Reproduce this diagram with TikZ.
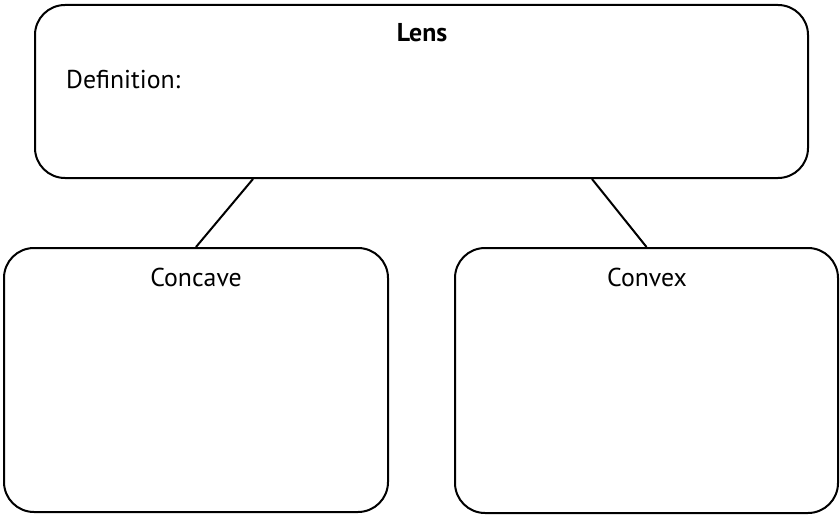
\documentclass[tikz,border=0pt]{standalone}
\usepackage{fontspec}
\setmainfont{PT Sans}
\begin{document}
\begin{tikzpicture}[x=1pt,y=-1pt,
  box/.style={draw=black,line width=2pt,rounded corners=30pt,inner sep=0pt},
  link/.style={draw=black,line width=2pt},
  lbl/.style={font=\fontsize{25.8}{30}\selectfont,anchor=base,inner sep=0pt}]
\useasboundingbox[fill=white] (0,0) rectangle (840,516);
\node[box,minimum width=773pt,minimum height=173pt] (top) at (421.5,91.5) {};
\node[box,minimum width=384pt,minimum height=264pt] (left) at (196,380) {};
\node[box,minimum width=383pt,minimum height=265pt] (right) at (646.5,380.5) {};
\node[lbl,font=\fontsize{25.8}{30}\selectfont\bfseries] (lens) at (422,42) {Lens};
\node[lbl,anchor=base west] (def) at (66,89) {Definition:};
\node[lbl] (concave) at (196,286) {Concave};
\node[lbl] (convex) at (647,286) {Convex};
\draw[link] ([xshift=-168.5pt]top.south) -- (left.north);
\draw[link] ([xshift=170.5pt]top.south) -- (right.north);
\end{tikzpicture}
\end{document}
